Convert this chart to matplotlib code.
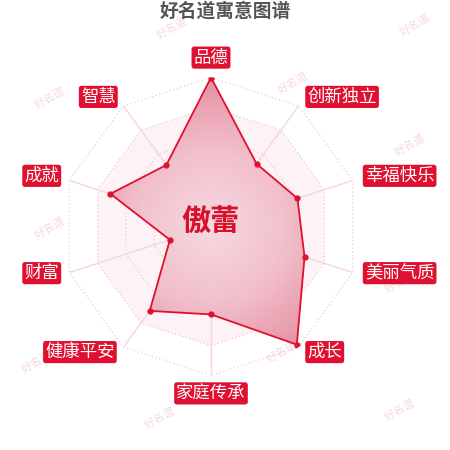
import numpy as np
import matplotlib
matplotlib.use("Agg")
import matplotlib.pyplot as plt
from matplotlib.colors import LinearSegmentedColormap
from matplotlib.transforms import offset_copy

plt.rcParams["font.family"] = ["Noto Sans CJK SC", "DejaVu Sans"]

TITLE = "好名道寓意图谱"
NAME = "傲蕾"
categories = ["品德", "创新独立", "幸福快乐", "美丽气质", "成长",
              "家庭传承", "健康平安", "财富", "成就", "智慧"]
values = [100, 52, 61, 66, 98, 59, 70, 29, 71, 51]
max_value = 100
ring_levels = [20, 40, 60, 80, 100]

RED = "#e01030"
RING = "#efc9d2"

# small pixel nudges for the name boxes (x right, y up)
label_nudge = [(0, 5), (0, -3), (-2, 0), (-2, 4), (0, 7),
               (0, -3), (0, 7), (4, 4), (4, 0), (1, -3)]

# watermark spots (pixels from top-left)
watermarks = [(172, 28), (415, 25), (50, 98), (293, 83), (410, 145),
              (160, 158), (50, 228), (400, 282), (150, 292), (37, 362),
              (282, 352), (160, 418), (400, 410)]


def main():
    fig = plt.figure(figsize=(4.5, 4.5), dpi=100)
    cx, cy, R = 211, 226.5, 149
    ax = fig.add_axes([(cx - R) / 450, (450 - cy - R) / 450, 2 * R / 450, 2 * R / 450],
                      projection="polar")
    ax.set_theta_zero_location("N")
    ax.set_theta_direction(-1)
    ax.set_ylim(0, max_value)
    ax.axis("off")

    n = len(categories)
    theta = np.arange(n) * 2 * np.pi / n
    closed = np.append(theta, theta[0])

    # background split area
    ax.fill(closed, [ring_levels[-2]] * (n + 1), color="#fdf2f5", lw=0, zorder=0)

    # rings and spokes
    for lvl in ring_levels:
        ax.plot(closed, [lvl] * (n + 1), color=RING, lw=0.9, ls=(0, (1, 2)), zorder=1)
    for t in theta:
        ax.plot([t, t], [0, max_value], color="#f3d6dd", lw=1, zorder=1)

    # watermarks, kept under the chart
    for x, y in watermarks:
        fig.text(x / 450, 1 - y / 450, "好名道", fontsize=8, color="#f5d9df",
                 rotation=30, ha="center", va="center", style="italic", zorder=-1)

    # value polygon with radial gradient
    vals = np.append(values, values[0])
    poly = ax.fill(closed, vals, facecolor="none", edgecolor=RED, lw=1.3, zorder=4)[0]
    cmap = LinearSegmentedColormap.from_list("pink", ["#f6d9e0", "#f1c0cb", "#e690a3"])
    tg = np.linspace(0, 2 * np.pi, 241)
    rg = np.linspace(0, max_value, 101)
    T, Rr = np.meshgrid(tg, rg)
    C = (Rr[:-1, :-1] + Rr[1:, 1:]) / 2
    mesh = ax.pcolormesh(T, Rr, C, cmap=cmap, vmin=0, vmax=max_value,
                         shading="flat", antialiased=False, zorder=3)
    mesh.set_clip_path(poly)
    ax.plot(theta, values, "o", color=RED, ms=3.5, zorder=5)

    # name in the middle
    fig.text(210 / 450, 1 - 222 / 450, NAME, fontsize=21, fontweight="bold",
             color="#d8102c", ha="center", va="center", zorder=6)

    # axis names
    for t, name, (dx, dy) in zip(theta, categories, label_nudge):
        s = np.sin(t)
        if abs(s) < 1e-6:
            ha = "center"
        elif s > 0:
            ha = "left"
        else:
            ha = "right"
        tr = offset_copy(ax.transData, fig=fig, x=dx, y=dy, units="dots")
        ax.text(t, 110, name, transform=tr, ha=ha, va="center", fontsize=12.5,
                color="white", clip_on=False, zorder=7,
                bbox=dict(boxstyle="round,pad=0.12,rounding_size=0.15",
                          fc=RED, ec="none"))

    fig.text(225 / 450, 1 - 11 / 450, TITLE, fontsize=13.5, fontweight="bold",
             color="#555555", ha="center", va="center")

    fig.savefig("out.png", dpi=100)


if __name__ == "__main__":
    main()
